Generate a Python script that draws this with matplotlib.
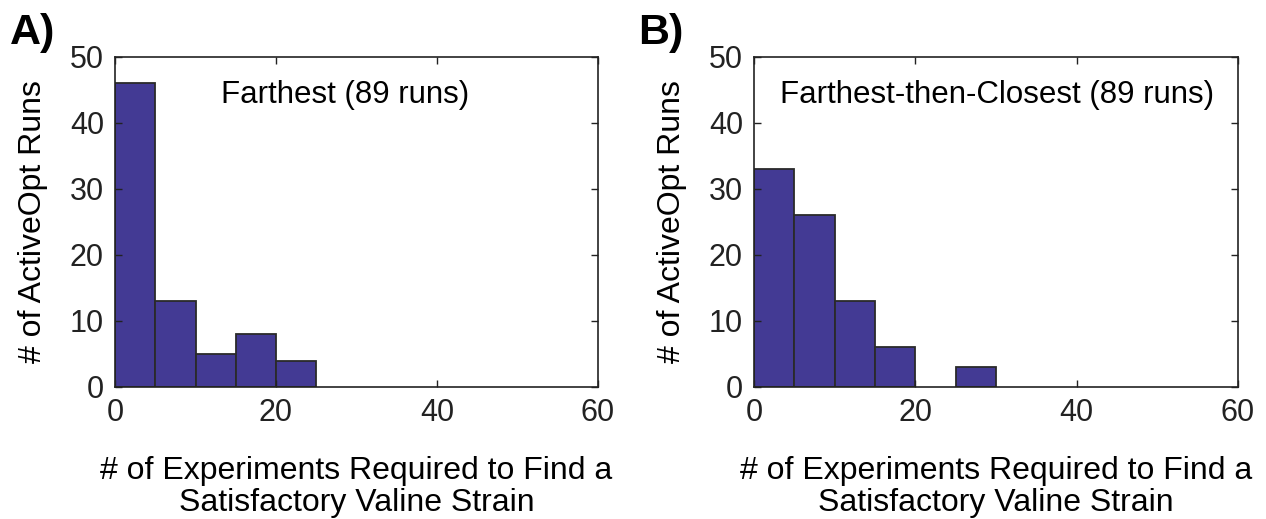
import matplotlib.pyplot as plt
import numpy as np

plt.rcParams['font.family'] = ['Liberation Sans', 'DejaVu Sans']

# histogram bins and counts
bin_edges = [0, 5, 10, 15, 20, 25, 30]
counts_far = [46, 13, 5, 8, 4, 0]
counts_ftc = [33, 26, 13, 6, 0, 3]
titles = ["Farthest (89 runs)", "Farthest-then-Closest (89 runs)"]
panel_tags = ["A)", "B)"]

bar_color = "#433A94"
edge_color = "#2a2a2a"

fig = plt.figure(figsize=(12.66, 5.19), dpi=100)
W, H = 1266, 519
ax1 = fig.add_axes([115 / W, 1 - 387 / H, 483 / W, 330 / H])
ax2 = fig.add_axes([754 / W, 1 - 387 / H, 484 / W, 330 / H])

for ax, counts, title, tag, tx in zip([ax1, ax2], [counts_far, counts_ftc], titles, panel_tags, [10, 638]):
    left = np.array(bin_edges[:-1])
    widths = np.diff(bin_edges)
    lw = [1.3 if c > 0 else 0 for c in counts]
    ax.bar(left, counts, width=widths, align="edge", color=bar_color,
           edgecolor=edge_color, linewidth=lw)
    ax.set_xlim(0, 60)
    ax.set_ylim(0, 50)
    ax.set_xticks([0, 20, 40, 60])
    ax.set_yticks([0, 10, 20, 30, 40, 50])
    ax.tick_params(direction="in", length=5, width=1, labelsize=22, pad=8,
                   top=True, right=True, colors="#222222")
    for s in ax.spines.values():
        s.set_linewidth(1.2)
        s.set_color("#222222")
    ax.set_xlabel("# of Experiments Required to Find a\nSatisfactory Valine Strain",
                  fontsize=23, labelpad=20, linespacing=1.08)
    ax.set_ylabel("# of ActiveOpt Runs", fontsize=23, labelpad=16)
    cx = 28.6 if ax is ax1 else 30.1
    ax.text(cx, 44.2, title, ha="center", va="center", fontsize=22.5)
    fig.text(tx / W, 1 - 33 / H, tag, fontsize=31, fontweight="bold",
             ha="left", va="center")

fig.savefig("out.png", dpi=100)
